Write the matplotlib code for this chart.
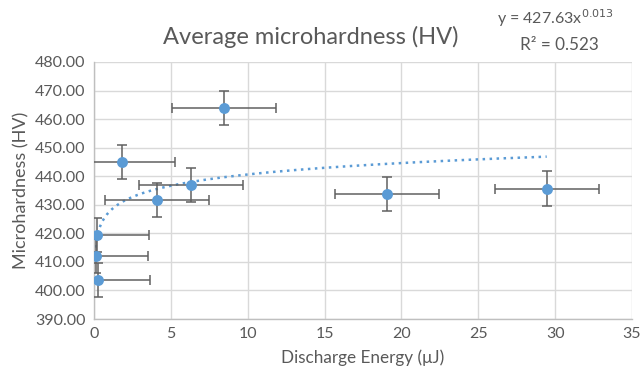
import numpy as np
import matplotlib
matplotlib.use('Agg')
import matplotlib.pyplot as plt

plt.rcParams['font.family'] = ['Lato', 'DejaVu Sans']

# Discharge energy (uJ) and average microhardness (HV) with their spreads
energy = [8.46, 1.82, 6.31, 4.10, 19.04, 29.45, 0.17, 0.10, 0.24]
hardness = [463.9, 445.0, 436.9, 431.7, 433.7, 435.7, 419.5, 412.2, 403.6]
energy_err = [3.38, 3.45, 3.38, 3.38, 3.38, 3.38, 3.40, 3.40, 3.40]
hardness_err = [5.8, 5.8, 6.0, 5.8, 6.0, 6.0, 6.0, 6.0, 6.0]

# Power trendline y = a * x^b
fit_a = 427.63
fit_b = 0.013
fit_r2 = 0.523

x_ticks = [0, 5, 10, 15, 20, 25, 30, 35]
y_ticks = [390, 400, 410, 420, 430, 440, 450, 460, 470, 480]

blue = '#5B9BD5'
grey_text = '#595959'

fig = plt.figure(figsize=(6.4, 3.71), dpi=100)
ax = fig.add_axes([0.147, 0.140, 0.8405, 0.693])

ax.errorbar(energy, hardness, xerr=energy_err, yerr=hardness_err, fmt='none',
            ecolor='#606060', elinewidth=1.1, capsize=3.6, capthick=1.1, zorder=3)
ax.scatter(energy, hardness, s=62, color=blue, zorder=4, linewidths=0)

xs = np.linspace(min(energy), max(energy), 400)
ax.plot(xs, fit_a * xs ** fit_b, color=blue, linestyle=(0, (1, 1.8)),
        linewidth=1.8, zorder=2)

ax.set_xlim(0, 35)
ax.set_ylim(390, 480)
ax.set_xticks(x_ticks)
ax.set_yticks(y_ticks)
ax.set_yticklabels([f'{v:.2f}' for v in y_ticks])
ax.grid(True, color='#d9d9d9', linewidth=1)
ax.set_axisbelow(True)
ax.tick_params(length=0, labelsize=11.5, colors=grey_text, pad=6)

for side in ['top', 'right']:
    ax.spines[side].set_visible(False)
for side in ['left', 'bottom']:
    ax.spines[side].set_color('#bfbfbf')
    ax.spines[side].set_linewidth(1)

ax.set_xlabel('Discharge Energy (μJ)', fontsize=12.3, color=grey_text, labelpad=6)
ax.set_ylabel('Microhardness (HV)', fontsize=13, color=grey_text, labelpad=4)

fig.text(0.485, 0.900, 'Average microhardness (HV)', ha='center', va='center',
         fontsize=17, color=grey_text)
fig.text(0.868, 0.952, rf'y = {fit_a}x$^{{{fit_b}}}$', ha='center', va='center',
         fontsize=11.5, color=grey_text)
fig.text(0.874, 0.878, f'R² = {fit_r2}', ha='center', va='center',
         fontsize=12.3, color=grey_text)

fig.savefig('out.png', dpi=100)
